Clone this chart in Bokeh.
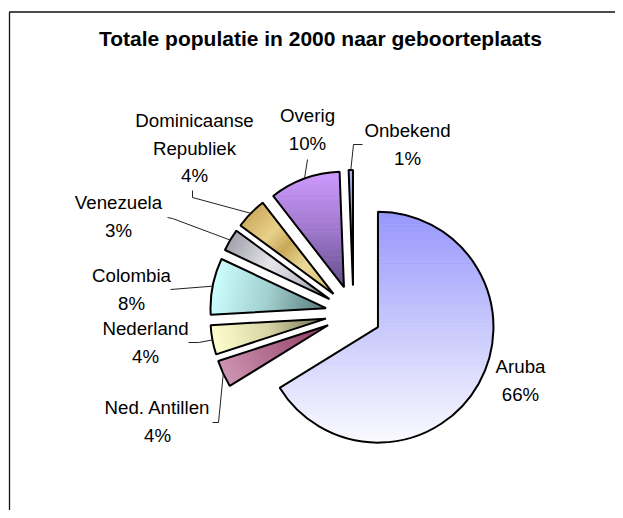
import numpy as np
from bokeh.plotting import figure
from bokeh.models import Range1d
from bokeh.embed import file_html
from bokeh.resources import INLINE
from bokeh.core.properties import value

# ---------------- data ----------------
title = "Totale populatie in 2000 naar geboorteplaats"
categories = ["Aruba", "Ned. Antillen", "Nederland", "Colombia", "Venezuela",
              "Dominicaanse\nRepubliek", "Overig", "Onbekend"]
shares = [66.2, 3.8, 4.1, 7.9, 3.1, 4.4, 9.9, 0.6]

# ---------------- styling / layout ----------------
W, H = 615, 510
FONT = "Liberation Sans"
OFF_X, OFF_Y = 0.0, 0.0

def px(xs):  # picture x -> data x
    return xs - OFF_X

def py(ys):  # picture y -> data y
    return H - (ys - OFF_Y)

CX, CY = px(353), py(313)   # pie centre
R = 115.5                   # radius
EXPLODE = 28.0              # explosion distance

# gradient: (mode, stops) ; mode "v" = top->bottom, "r" = outer->apex
grad = [
    ("v", [(0.0, (150, 150, 252)), (0.5, (200, 200, 253)), (1.0, (250, 250, 255))]),
    ("r", [(0.0, (205, 148, 178)), (1.0, (140, 55, 95))]),
    ("r", [(0.0, (255, 255, 205)), (0.5, (215, 212, 165)), (1.0, (105, 105, 75))]),
    ("r", [(0.0, (205, 255, 255)), (0.5, (160, 205, 205)), (1.0, (85, 120, 120))]),
    ("r", [(0.0, (160, 160, 170)), (0.4, (228, 228, 233)), (0.7, (195, 195, 205)), (1.0, (115, 115, 135))]),
    ("r", [(0.0, (205, 172, 92)), (0.25, (232, 208, 135)), (0.42, (200, 168, 88)),
           (0.65, (236, 216, 148)), (1.0, (210, 185, 105))]),
    ("v", [(0.0, (206, 155, 255)), (0.5, (160, 120, 205)), (1.0, (100, 78, 140))]),
    ("v", [(0.0, (175, 175, 235)), (1.0, (105, 105, 165))]),
]

# label first-line anchor (picture coords)
label_pos = [(520, 366), (157, 407), (145, 328), (131, 275), (118, 202),
             (194, 120), (307, 115), (407, 130)]
LINE_STEP = 27.5
# leader line points on the label side (picture coords); end point comes from the slice
leader_pts = [None, [(212, 422), (218, 422)], [(188, 342), (198, 342)], [(170, 289)],
              [(167, 217), (172, 218)], [(192, 190), (192, 197)], [(307, 159)],
              [(362, 144), (353, 144)]]


def interp(stops, t):
    t = min(max(t, 0.0), 1.0)
    for (t0, c0), (t1, c1) in zip(stops[:-1], stops[1:]):
        if t <= t1:
            f = 0 if t1 == t0 else (t - t0) / (t1 - t0)
            c = [int(round(a + (b - a) * f)) for a, b in zip(c0, c1)]
            return "#%02x%02x%02x" % tuple(c)
    return "#%02x%02x%02x" % tuple(stops[-1][1])


def clip(poly, d, c, ge=True):
    out = []
    n = len(poly)
    for i in range(n):
        p, q = poly[i], poly[(i + 1) % n]
        sp = p[0] * d[0] + p[1] * d[1] - c
        sq = q[0] * d[0] + q[1] * d[1] - c
        if not ge:
            sp, sq = -sp, -sq
        if sp >= 0:
            out.append(p)
        if (sp >= 0) != (sq >= 0):
            f = sp / (sp - sq)
            out.append((p[0] + (q[0] - p[0]) * f, p[1] + (q[1] - p[1]) * f))
    return out


p = figure(width=W, height=H, x_range=Range1d(0, W), y_range=Range1d(0, H),
           output_backend="svg", toolbar_location=None,
           x_axis_location=None, y_axis_location=None, min_border=0)
p.grid.visible = False
p.outline_line_color = None
p.background_fill_color = "white"
p.border_fill_color = "white"

# chart border (extends past right / bottom of window)
p.line(x=[px(9), px(9), W + 50], y=[-50, py(11.5), py(11.5)], line_color="#111111", line_width=1.3)

total = float(sum(shares))
cum = np.concatenate([[0.0], np.cumsum(shares)]) / total * 360.0   # clockwise from 12 o'clock

wx, wy, sa, ea = [], [], [], []
strip_xs, strip_ys, strip_cols = [], [], []
arc_mid = []
for i, v in enumerate(shares):
    ts, te = cum[i], cum[i + 1]
    am = np.radians(90 - (ts + te) / 2)
    dvec = (np.cos(am), np.sin(am))
    sx, sy = CX + EXPLODE * dvec[0], CY + EXPLODE * dvec[1]
    wx.append(sx); wy.append(sy)
    sa.append(np.radians(90 - te)); ea.append(np.radians(90 - ts))
    arc_mid.append((sx + R * dvec[0], sy + R * dvec[1]))

    angs = np.linspace(np.radians(90 - ts), np.radians(90 - te), 200)
    poly = [(sx, sy)] + [(sx + R * np.cos(a), sy + R * np.sin(a)) for a in angs]
    mode, stops = grad[i]
    if mode == "v":
        gd = (0.0, -1.0)
    else:
        gd = (-dvec[0], -dvec[1])
    proj = [q[0] * gd[0] + q[1] * gd[1] for q in poly]
    s0, s1 = min(proj), max(proj)
    nb = 70
    edges = np.linspace(s0, s1, nb + 1)
    for k in range(nb):
        piece = clip(poly, gd, edges[k], True)
        if len(piece) < 3:
            continue
        piece = clip(piece, gd, edges[k + 1], False)
        if len(piece) < 3:
            continue
        strip_xs.append([q[0] for q in piece])
        strip_ys.append([q[1] for q in piece])
        strip_cols.append(interp(stops, (k + 0.5) / nb))

p.patches(xs=strip_xs, ys=strip_ys, fill_color=strip_cols, line_color=strip_cols, line_width=0.8)
p.wedge(x=wx, y=wy, radius=R, start_angle=sa, end_angle=ea, direction="anticlock",
        fill_color=None, line_color="black", line_width=2.0)

# leader lines
lx, ly = [], []
for i, pts in enumerate(leader_pts):
    if not pts:
        continue
    xs = [px(a) for a, b in pts] + [arc_mid[i][0]]
    ys = [py(b) for a, b in pts] + [arc_mid[i][1]]
    lx.append(xs); ly.append(ys)
p.multi_line(xs=lx, ys=ly, line_color="#222222", line_width=1.0)

# labels
tx, ty, tt = [], [], []
for i, (name, v) in enumerate(zip(categories, shares)):
    lines = name.split("\n") + ["%d%%" % int(round(v / total * 100))]
    ax, ay = label_pos[i]
    for j, line in enumerate(lines):
        tx.append(px(ax)); ty.append(py(ay + j * LINE_STEP)); tt.append(line)
p.text(x=tx, y=ty, text=tt, text_font=value(FONT), text_font_size="18.7px",
       text_align="center", text_baseline="middle", text_color="black")

p.text(x=[px(320)], y=[py(38)], text=[title], text_font=value(FONT), text_font_size="21px",
       text_font_style="bold", text_align="center", text_baseline="middle", text_color="black")

open("out.html", "w").write(file_html(p, INLINE))
